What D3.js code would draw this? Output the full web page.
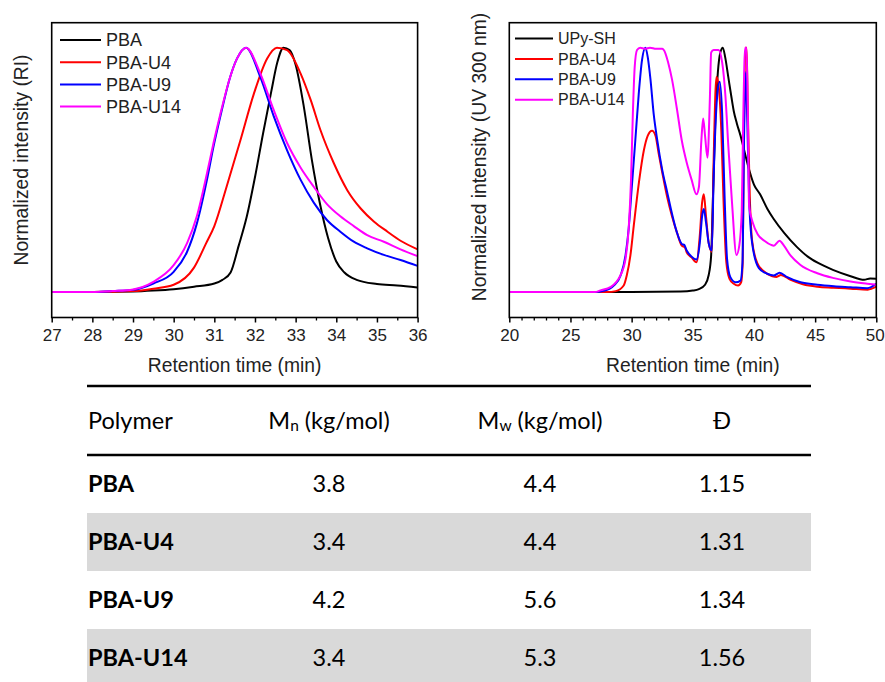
<!DOCTYPE html>
<html>
<head>
<meta charset="utf-8">
<script src="https://cdn.jsdelivr.net/npm/d3@7"></script>
<style>
  html, body { margin: 0; padding: 0; background: #fff; }
  svg { display: block; }
</style>
</head>
<body>
<svg id="fig" width="885" height="682"></svg>
<script>
// ---------- GPC traces: refractive index detector (left panel) ----------
const riPBA_t = [27, 28, 29, 29.5, 30, 30.5, 31, 31.2, 31.4, 31.6, 31.8, 32.0, 32.2, 32.4, 32.55, 32.7, 32.85, 33.0, 33.2, 33.4, 33.6, 33.8, 34.0, 34.2, 34.5, 35, 35.5, 36];
const riPBA_v = [0, 0, 0.002, 0.006, 0.012, 0.022, 0.035, 0.05, 0.08, 0.19, 0.31, 0.47, 0.65, 0.82, 0.94, 1.0, 0.99, 0.93, 0.76, 0.54, 0.36, 0.22, 0.125, 0.08, 0.05, 0.033, 0.027, 0.019];

const riU4_t = [27, 28, 29, 29.5, 30, 30.5, 30.8, 31.0, 31.3, 31.64, 31.97, 32.3, 32.54, 32.79, 33.12, 33.37, 33.61, 33.94, 34.27, 34.6, 34.93, 35.26, 35.58, 36];
const riU4_v = [0, 0, 0.004, 0.014, 0.03, 0.10, 0.2, 0.27, 0.43, 0.62, 0.81, 0.956, 1.0, 0.99, 0.895, 0.786, 0.663, 0.527, 0.417, 0.342, 0.288, 0.247, 0.21, 0.175];

const riU9_t = [27, 28, 28.5, 29.0, 29.5, 30.0, 30.33, 30.57, 30.82, 30.98, 31.15, 31.39, 31.56, 31.78, 32.13, 32.46, 32.79, 33.12, 33.45, 33.77, 34.1, 34.43, 34.76, 35.17, 35.58, 36];
const riU9_v = [0, 0, 0.004, 0.009, 0.035, 0.083, 0.165, 0.28, 0.46, 0.595, 0.72, 0.88, 0.956, 1.0, 0.88, 0.72, 0.58, 0.46, 0.365, 0.295, 0.247, 0.206, 0.179, 0.152, 0.131, 0.107];

const riU14_t = [27, 28, 28.5, 29.0, 29.5, 30.0, 30.33, 30.57, 30.82, 30.98, 31.15, 31.39, 31.56, 31.78, 32.13, 32.46, 32.79, 33.12, 33.45, 33.77, 34.1, 34.43, 34.76, 35.17, 35.58, 36];
const riU14_v = [0, 0, 0.004, 0.011, 0.042, 0.11, 0.2, 0.31, 0.486, 0.61, 0.73, 0.88, 0.956, 1.0, 0.895, 0.745, 0.61, 0.51, 0.43, 0.36, 0.31, 0.27, 0.233, 0.206, 0.175, 0.147];

// ---------- GPC traces: UV detector at 300 nm (right panel) ----------
const uvUPy_t = [20, 30, 34, 35, 35.5, 36.0, 36.3, 36.5, 36.65, 36.85, 37.05, 37.25, 37.45, 37.65, 37.9, 38.15, 38.35, 38.6, 38.9, 39.2, 39.5, 40.0, 40.5, 41.1, 41.6, 42.5, 43.5, 44.4, 45.2, 46.5, 47.9, 49.0, 49.5, 50];
const uvUPy_v = [0, 0, 0.002, 0.006, 0.012, 0.03, 0.07, 0.15, 0.39, 0.72, 0.9, 0.98, 1.0, 0.96, 0.88, 0.8, 0.74, 0.69, 0.64, 0.58, 0.52, 0.44, 0.4, 0.34, 0.3, 0.24, 0.185, 0.145, 0.12, 0.09, 0.065, 0.05, 0.056, 0.055];

const uvU4_t = [20, 28, 28.7, 29.35, 29.6, 29.9, 30.17, 30.6, 31.0, 31.32, 31.67, 31.95, 32.2, 32.5, 32.9, 33.3, 33.7, 34.1, 34.35, 34.5, 34.9, 35.3, 35.57, 35.76, 35.9, 36.08, 36.3, 36.55, 36.7, 36.93, 37.1, 37.33, 37.5, 37.74, 38.0, 38.35, 38.7, 38.95, 39.08, 39.18, 39.3, 39.4, 39.5, 39.66, 39.85, 40.26, 40.8, 41.5, 41.85, 42.2, 43.0, 44.0, 45.2, 46.5, 47.9, 49.3, 50];
const uvU4_v = [0, 0, 0.004, 0.027, 0.068, 0.15, 0.27, 0.45, 0.58, 0.64, 0.66, 0.64, 0.57, 0.49, 0.39, 0.31, 0.244, 0.19, 0.183, 0.163, 0.142, 0.122, 0.23, 0.366, 0.40, 0.31, 0.2, 0.165, 0.53, 0.88, 0.85, 0.66, 0.39, 0.122, 0.054, 0.034, 0.027, 0.04, 0.12, 0.66, 1.0, 1.0, 0.73, 0.39, 0.21, 0.12, 0.085, 0.065, 0.062, 0.07, 0.05, 0.032, 0.022, 0.018, 0.014, 0.01, 0.022];

const uvU9_t = [20, 27.0, 27.7, 28.54, 29.1, 29.5, 29.76, 30.0, 30.3, 30.58, 30.85, 31.13, 31.32, 31.54, 31.8, 32.1, 32.5, 32.9, 33.3, 33.7, 34.1, 34.3, 34.5, 34.9, 35.3, 35.57, 35.76, 35.9, 36.08, 36.3, 36.55, 36.7, 36.99, 37.2, 37.4, 37.6, 37.8, 38.07, 38.5, 38.9, 39.06, 39.2, 39.33, 39.44, 39.6, 39.85, 40.4, 41.08, 41.63, 42.09, 42.72, 43.81, 45.18, 46.54, 47.9, 49.26, 50];
const uvU9_v = [0, 0, 0.005, 0.027, 0.068, 0.15, 0.26, 0.42, 0.62, 0.81, 0.95, 1.0, 0.96, 0.87, 0.73, 0.62, 0.50, 0.41, 0.32, 0.244, 0.197, 0.193, 0.17, 0.145, 0.133, 0.2, 0.31, 0.34, 0.285, 0.2, 0.17, 0.46, 0.8, 0.86, 0.73, 0.39, 0.136, 0.061, 0.04, 0.047, 0.12, 0.66, 0.9, 0.73, 0.39, 0.2, 0.098, 0.075, 0.068, 0.079, 0.061, 0.04, 0.03, 0.024, 0.02, 0.016, 0.034];

const uvU14_t = [20, 27.0, 27.45, 28.26, 29.08, 29.5, 29.76, 29.95, 30.1, 30.25, 30.44, 30.7, 31.1, 31.5, 32.0, 32.49, 32.76, 33.0, 33.3, 33.7, 34.1, 34.5, 34.9, 35.3, 35.5, 35.7, 35.85, 36.0, 36.2, 36.4, 36.5, 36.7, 37.1, 37.4, 37.67, 37.9, 38.2, 38.57, 38.8, 39.0, 39.12, 39.28, 39.39, 39.5, 39.6, 39.9, 40.3, 40.85, 41.4, 41.63, 42.09, 42.45, 43.0, 43.8, 45.18, 46.54, 47.9, 49.26, 50];
const uvU14_v = [0, 0, 0.007, 0.02, 0.068, 0.136, 0.26, 0.46, 0.73, 0.92, 0.99, 1.0, 0.995, 1.0, 0.995, 0.995, 0.977, 0.936, 0.87, 0.75, 0.62, 0.53, 0.46, 0.40, 0.43, 0.62, 0.71, 0.64, 0.55, 0.8, 0.98, 0.99, 0.99, 0.94, 0.8, 0.6, 0.37, 0.152, 0.19, 0.33, 0.7, 1.0, 1.0, 0.73, 0.353, 0.285, 0.237, 0.21, 0.193, 0.19, 0.21, 0.19, 0.149, 0.111, 0.077, 0.057, 0.043, 0.034, 0.03];

// ---------- series labels, colours, ticks ----------
const riNames = ["PBA", "PBA-U4", "PBA-U9", "PBA-U14"];
const uvNames = ["UPy-SH", "PBA-U4", "PBA-U9", "PBA-U14"];
const seriesColors = ["#000000", "#ff0000", "#0000ff", "#ff00ff"];
const riTicks = [27, 28, 29, 30, 31, 32, 33, 34, 35, 36];
const uvTicks = [20, 25, 30, 35, 40, 45, 50];

// ---------- molecular weight table ----------
const polymers = ["PBA", "PBA-U4", "PBA-U9", "PBA-U14"];
const mnValues = ["3.8", "3.4", "4.2", "3.4"];
const mwValues = ["4.4", "4.4", "5.6", "5.3"];
const dispersity = ["1.15", "1.31", "1.34", "1.56"];

const svg = d3.select("#fig");
const axisFont = "'Liberation Sans', Arial, sans-serif";

function zip(ts, vs) { return ts.map((t, i) => ({ t: t, v: vs[i] })); }

function drawPanel(opts) {
  const { x0, x1, y0, y1, domain, majors, minorStep, series, names, yTitle, legend } = opts;
  const g = svg.append("g");
  const x = d3.scaleLinear().domain(domain).range([x0, x1]);
  const y = d3.scaleLinear().domain([-0.104, 1.102]).range([y1, y0]);

  const clipId = "clip" + Math.round(x0);
  g.append("clipPath").attr("id", clipId)
    .append("rect").attr("x", x0).attr("y", y0).attr("width", x1 - x0).attr("height", y1 - y0);

  // minor ticks
  const minors = d3.range(domain[0], domain[1] + 1e-9, minorStep).filter(v => !majors.includes(v));
  g.append("g").attr("transform", `translate(0,${y1})`)
    .call(d3.axisBottom(x).tickValues(minors).tickSize(3).tickFormat(""))
    .call(a => a.select(".domain").remove())
    .call(a => a.selectAll("line").attr("stroke", "#000").attr("stroke-width", 1.3));

  // major ticks + labels
  g.append("g").attr("transform", `translate(0,${y1})`)
    .call(d3.axisBottom(x).tickValues(majors).tickSize(5).tickPadding(6).tickFormat(d3.format("d")))
    .call(a => a.select(".domain").remove())
    .call(a => a.selectAll("line").attr("stroke", "#000").attr("stroke-width", 1.5))
    .call(a => a.selectAll("text").attr("fill", "#222").attr("font-size", 17).attr("font-family", axisFont))
    .call(a => a.selectAll(".tick").filter(d => d === domain[1] && opts.lastLabelShift)
      .select("text").attr("dx", opts.lastLabelShift));

  // traces
  const line = d3.line().x(d => x(d.t)).y(d => y(d.v)).curve(d3.curveMonotoneX);
  const traces = g.append("g").attr("clip-path", `url(#${clipId})`);
  series.forEach((s, i) => {
    traces.append("path").datum(s)
      .attr("d", line)
      .attr("fill", "none")
      .attr("stroke", seriesColors[i])
      .attr("stroke-width", 2)
      .attr("stroke-linejoin", "round");
  });

  // frame
  g.append("rect").attr("x", x0).attr("y", y0).attr("width", x1 - x0).attr("height", y1 - y0)
    .attr("fill", "none").attr("stroke", "#000").attr("stroke-width", 1.6);

  // axis titles
  g.append("text").attr("x", (x0 + x1) / 2).attr("y", 372)
    .attr("text-anchor", "middle").attr("font-size", 19.3).attr("font-family", axisFont).attr("fill", "#222")
    .text("Retention time (min)");
  g.append("text")
    .attr("transform", `translate(${opts.yTitleX},${opts.yTitleY}) rotate(-90)`)
    .attr("text-anchor", "middle").attr("font-size", 19.3).attr("font-family", axisFont).attr("fill", "#222")
    .text(yTitle);

  // legend
  names.forEach((n, i) => {
    const ly = legend.y + i * legend.dy;
    g.append("line").attr("x1", legend.x).attr("x2", legend.x + legend.len)
      .attr("y1", ly).attr("y2", ly).attr("stroke", seriesColors[i]).attr("stroke-width", 2);
    g.append("text").attr("x", legend.x + legend.len + 5).attr("y", ly).attr("dy", "0.36em")
      .attr("font-size", legend.size).attr("font-family", axisFont).attr("fill", "#222")
      .text(n);
  });
}

drawPanel({
  x0: 51.7, x1: 417.6, y0: 22.7, y1: 317.5,
  domain: [27, 36], majors: riTicks, minorStep: 0.5,
  series: [zip(riPBA_t, riPBA_v), zip(riU4_t, riU4_v), zip(riU9_t, riU9_v), zip(riU14_t, riU14_v)],
  names: riNames,
  yTitle: "Normalized intensity (RI)", yTitleX: 28, yTitleY: 160,
  legend: { x: 60, y: 40, dy: 22.2, len: 41, size: 18 }
});

drawPanel({
  x0: 509.3, x1: 876.3, y0: 22.7, y1: 317.5,
  domain: [20, 50], majors: uvTicks, minorStep: 1,
  series: [zip(uvUPy_t, uvUPy_v), zip(uvU4_t, uvU4_v), zip(uvU9_t, uvU9_v), zip(uvU14_t, uvU14_v)],
  names: uvNames,
  yTitle: "Normalized intensity (UV 300 nm)", yTitleX: 486, yTitleY: 157,
  legend: { x: 515, y: 38.5, dy: 20.4, len: 38, size: 16 },
  lastLabelShift: -1.5
});

// ---------- table ----------
const tableFont = "Lato, 'Open Sans', sans-serif";
const tx0 = 87, tx1 = 811;
const colX = { name: 88, mn: 329, mw: 540, d: 722 };
const rowY = d3.scaleBand().domain(polymers).range([455, 687]);
const tbl = svg.append("g").attr("font-family", tableFont).attr("fill", "#000");

// shaded alternate rows
tbl.selectAll("rect.band").data(polymers.filter((p, i) => i % 2 === 1)).enter()
  .append("rect").attr("class", "band")
  .attr("x", tx0).attr("width", tx1 - tx0)
  .attr("y", d => rowY(d)).attr("height", rowY.bandwidth())
  .attr("fill", "#d9d9d9");

// rules
[386, 455].forEach(yy => {
  tbl.append("line").attr("x1", tx0).attr("x2", tx1).attr("y1", yy).attr("y2", yy)
    .attr("stroke", "#000").attr("stroke-width", 2.4);
});

// header
const hy = 420.5, fs = 23.5;
tbl.append("text").attr("x", colX.name).attr("y", hy).attr("dy", "0.36em").attr("font-size", fs).text("Polymer");
function subHeader(cx, sub) {
  const t = tbl.append("text").attr("x", cx).attr("y", hy).attr("dy", "0.36em")
    .attr("font-size", fs).attr("text-anchor", "middle");
  t.append("tspan").text("M");
  t.append("tspan").attr("font-size", fs * 0.66).attr("dy", "0.12em").text(sub);
  t.append("tspan").attr("dy", "-0.08em").text(" (kg/mol)");
}
subHeader(colX.mn, "n");
subHeader(colX.mw, "w");
tbl.append("text").attr("x", colX.d).attr("y", hy).attr("dy", "0.36em").attr("font-size", fs)
  .attr("text-anchor", "middle").text("Đ");

// body rows
polymers.forEach((p, i) => {
  const cy = rowY(p) + rowY.bandwidth() / 2;
  tbl.append("text").attr("x", colX.name).attr("y", cy).attr("dy", "0.36em").attr("font-size", fs)
    .attr("font-weight", "bold").text(p);
  [[colX.mn, mnValues[i]], [colX.mw, mwValues[i]], [colX.d, dispersity[i]]].forEach(([cx, v]) => {
    tbl.append("text").attr("x", cx).attr("y", cy).attr("dy", "0.36em").attr("font-size", fs)
      .attr("text-anchor", "middle").text(v);
  });
});
</script>
</body>
</html>
